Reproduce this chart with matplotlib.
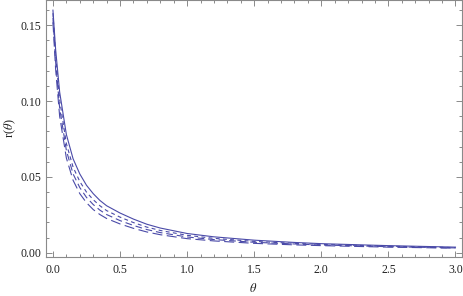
import matplotlib
matplotlib.use("Agg")
import matplotlib.pyplot as plt
from matplotlib.ticker import MultipleLocator, FormatStrFormatter

theta = [0, 0.02, 0.05, 0.1, 0.15, 0.2, 0.25, 0.3, 0.35, 0.4, 0.5, 0.6, 0.7, 0.8,
         1.0, 1.2, 1.5, 1.8, 2.0, 2.3, 2.5, 2.8, 3.0]
r_solid = [0.160, 0.134, 0.106, 0.078, 0.062, 0.052, 0.0445, 0.039, 0.0345, 0.031,
           0.0262, 0.0222, 0.0188, 0.0163, 0.0127, 0.0105, 0.0083, 0.0068, 0.0060,
           0.0052, 0.0047, 0.0041, 0.0037]
r_dash1 = [0.158, 0.130, 0.101, 0.072, 0.0565, 0.0470, 0.0400, 0.0350, 0.0310, 0.0278,
           0.0235, 0.0199, 0.0169, 0.0147, 0.0115, 0.0095, 0.0075, 0.0062, 0.0055,
           0.0048, 0.0043, 0.0038, 0.0034]
r_dash2 = [0.155, 0.126, 0.0954, 0.0675, 0.0520, 0.0430, 0.0365, 0.0318, 0.0281, 0.0252,
           0.0212, 0.0180, 0.0153, 0.0133, 0.0104, 0.0087, 0.0069, 0.0058, 0.0051,
           0.0045, 0.0040, 0.0035, 0.0032]
r_dash3 = [0.152, 0.121, 0.090, 0.0625, 0.0478, 0.0390, 0.0330, 0.0285, 0.0252, 0.0226,
           0.0190, 0.0161, 0.0137, 0.0119, 0.0093, 0.0078, 0.0062, 0.0052, 0.0047,
           0.0041, 0.0037, 0.0033, 0.0030]

color = "#4a4aa8"
plt.rcParams['font.family'] = ['Liberation Serif', 'DejaVu Serif']
plt.rcParams['mathtext.fontset'] = 'stix'

fig = plt.figure(figsize=(4.63, 2.96), dpi=100)
ax = fig.add_axes([45.7/463, 1 - 257.3/296, (461.5-45.7)/463, 257.3/296 - 0.001])

ax.plot(theta, r_solid, color=color, lw=0.8)
ax.plot(theta, r_dash1, color=color, lw=0.8, dashes=(3.5, 3))
ax.plot(theta, r_dash2, color=color, lw=0.8, dashes=(6, 3.5))
ax.plot(theta, r_dash3, color=color, lw=0.8, dashes=(9, 4))

ax.set_xlim(-0.054, 3.045)
ax.set_ylim(-0.0030, 0.1665)

ax.xaxis.set_major_locator(MultipleLocator(0.5))
ax.xaxis.set_minor_locator(MultipleLocator(0.1))
ax.yaxis.set_major_locator(MultipleLocator(0.05))
ax.yaxis.set_minor_locator(MultipleLocator(0.01))
ax.xaxis.set_major_formatter(FormatStrFormatter('%.1f'))
ax.yaxis.set_major_formatter(FormatStrFormatter('%.2f'))

gray = "#8a8a8a"
for s in ax.spines.values():
    s.set_color(gray)
    s.set_linewidth(0.8)
ax.tick_params(which='both', direction='in', top=True, right=True, color=gray,
               labelsize=8.5, labelcolor='#222222', width=0.7)
ax.tick_params(which='major', length=4)
ax.tick_params(which='minor', length=2.2)
ax.tick_params(axis='x', pad=5)
ax.tick_params(axis='y', pad=3.2)

ax.set_xlabel(r'$\theta$', fontsize=9, color='#222222')
ax.set_ylabel(r'r($\theta$)', fontsize=9, color='#222222')
ax.xaxis.set_label_coords(0.5 + (253 - 253.6) / 415.8, -30.7 / 257)
ax.yaxis.set_label_coords((10 - 45.7) / 415.8, 0.5 + (257.3/2 - 128) / 257)
ax.xaxis.label.set_va('center')
ax.yaxis.label.set_va('center')

fig.savefig("out.png", dpi=100)
